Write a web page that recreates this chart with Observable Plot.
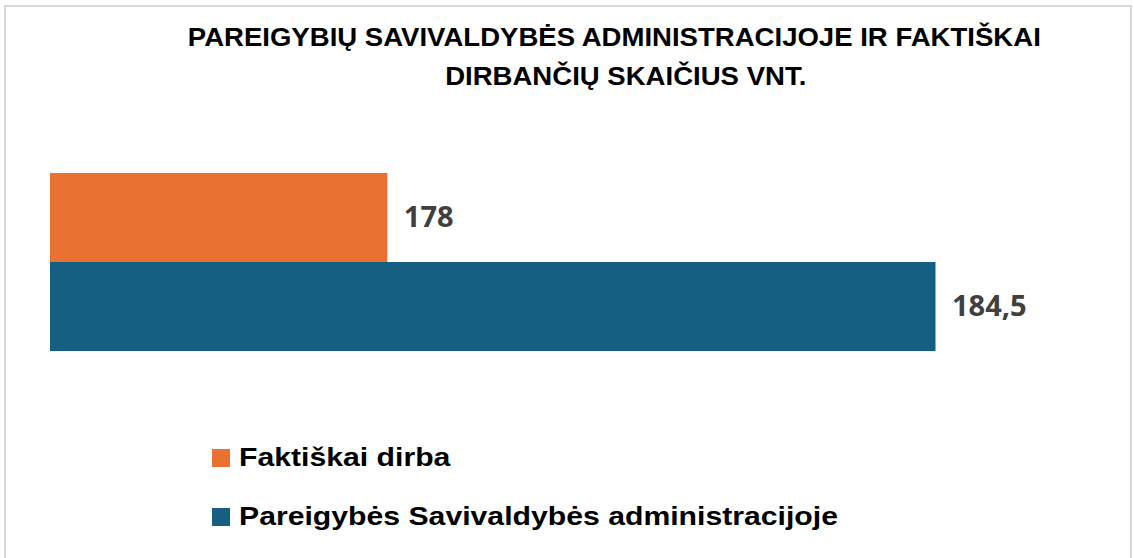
<!DOCTYPE html>
<html>
<head>
<meta charset="utf-8">
<script src="https://cdn.jsdelivr.net/npm/d3@7"></script>
<script src="https://cdn.jsdelivr.net/npm/@observablehq/plot@0.6"></script>
<style>
  html, body { margin:0; padding:0; background:#fff; width:1134px; height:558px; overflow:hidden; }
  #frame { position:absolute; left:4px; top:5px; width:1124px; height:700px; border:2px solid #d9d9d9; box-sizing:content-box; }
  #chart { position:absolute; left:0; top:0; width:1134px; }
  #title { position:relative; height:130px; box-sizing:border-box; padding-top:18px; width:1134px;
           font-family:"Liberation Sans",Arial,sans-serif; font-weight:bold; font-size:26.5px; line-height:39px;
           color:#000; white-space:nowrap; }
  .tline { display:block; height:39px; position:relative; }
  .tline span { position:absolute; top:0; display:inline-block; transform-origin:center center; }
  #legend { padding-top:8px; font-family:"Liberation Sans",Arial,sans-serif; font-weight:bold; font-size:26.5px; color:#000; }
  .item { display:flex; align-items:center; height:59px; padding-left:212px; white-space:nowrap; }
  .sw { width:18px; height:18px; margin-right:9px; flex:none; }
  .lt { display:inline-block; transform-origin:left center; }
  svg { display:block; }
</style>
</head>
<body>
<div id="frame"></div>
<div id="chart">
  <div id="title"></div>
  <div id="plot"></div>
  <div id="legend"></div>
</div>
<script>
const titleLines = ["PAREIGYBIŲ SAVIVALDYBĖS ADMINISTRACIJOJE IR FAKTIŠKAI", "DIRBANČIŲ SKAIČIUS VNT."];
const series = ["Faktiškai dirba", "Pareigybės Savivaldybės administracijoje"];
const values = [178, 184.5];
const valueLabels = ["178", "184,5"];
const colors = ["#E97132", "#156082"];
const axisMin = 174;
const axisMax = 186;

const data = series.map((s, i) => ({series: s, value: values[i], label: valueLabels[i]}));

// Title (narrow bold look: scale horizontally to the reference width)
const titleEl = document.getElementById("title");
const titleCenters = [614, 626];
const titleSpans = titleLines.map((t, i) => {
  const line = document.createElement("div");
  line.className = "tline";
  const s = document.createElement("span");
  s.textContent = t;
  line.appendChild(s);
  titleEl.appendChild(line);
  return s;
});
const tScale = 853 / titleSpans[0].getBoundingClientRect().width;
titleSpans.forEach((s, i) => {
  const w = s.getBoundingClientRect().width;
  s.style.left = (titleCenters[i] - w / 2) + "px";
  s.style.transform = `scaleX(${tScale})`;
});

const plot = Plot.plot({
  width: 1134,
  height: 290,
  marginLeft: 50,
  marginRight: 72,
  marginTop: 42,
  marginBottom: 69,
  x: {domain: [axisMin, axisMax], axis: null},
  y: {domain: series, axis: null, padding: 0},
  color: {domain: series, range: colors},
  style: {background: "transparent", overflow: "visible"},
  marks: [
    Plot.barX(data, {x1: axisMin, x2: "value", y: "series", fill: "series"}),
    Plot.text(data, {x: "value", y: "series", text: "label", dx: 16, textAnchor: "start",
      fontSize: 29, fontWeight: "bold", fill: "#404040", fontFamily: "'Open Sans', sans-serif"})
  ]
});
document.getElementById("plot").appendChild(plot);

const legend = document.getElementById("legend");
const legendTexts = series.map((s, i) => {
  const row = document.createElement("div");
  row.className = "item";
  const sw = document.createElement("span");
  sw.className = "sw";
  sw.style.background = colors[i];
  const tx = document.createElement("span");
  tx.className = "lt";
  tx.textContent = s;
  row.appendChild(sw);
  row.appendChild(tx);
  legend.appendChild(row);
  return tx;
});
const lScale = 599 / legendTexts[1].getBoundingClientRect().width;
legendTexts.forEach(t => t.style.transform = `scaleX(${lScale})`);
</script>
</body>
</html>
